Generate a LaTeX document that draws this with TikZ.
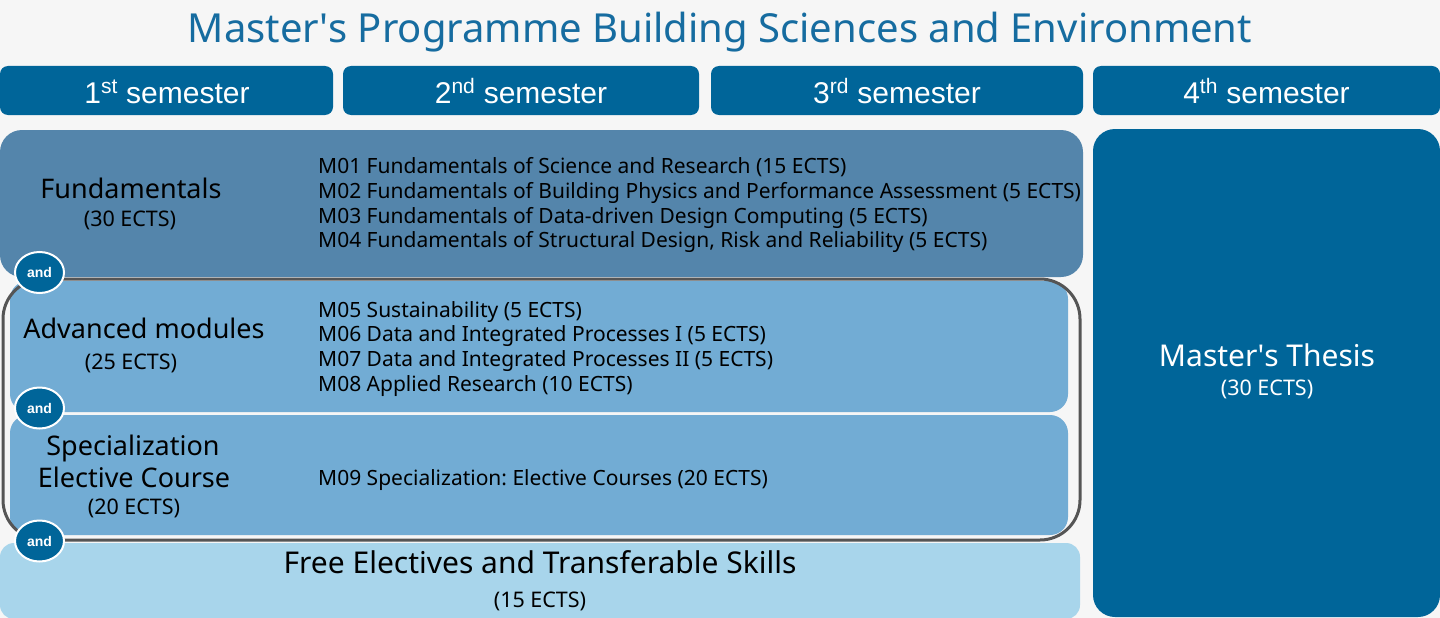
\documentclass[tikz,border=0pt]{standalone}
\usepackage{fontspec}
\setmainfont{Noto Sans}
\newfontfamily\headfont{Liberation Sans}
\usetikzlibrary{shapes.geometric}
\frenchspacing
\definecolor{bggray}{RGB}{246,246,246}
\definecolor{titleblue}{RGB}{22,108,160}
\definecolor{headblue}{RGB}{0,101,153}
\definecolor{fundblue}{RGB}{84,133,171}
\definecolor{advblue}{RGB}{114,172,212}
\definecolor{freeblue}{RGB}{168,213,235}
\definecolor{outgray}{RGB}{85,85,85}
\tikzset{
  semhead/.style={fill=headblue,rounded corners=8pt},
  semtext/.style={anchor=base,inner sep=0pt,text=white,font=\headfont\fontsize{30}{34}\selectfont},
  boxtitle/.style={anchor=base,inner sep=0pt,font=\fontsize{27}{32}\selectfont},
  bigtitle/.style={anchor=base,inner sep=0pt,font=\fontsize{30}{36}\selectfont},
  ectstext/.style={anchor=base,inner sep=0pt,font=\fontsize{21.5}{26}\selectfont},
  modtext/.style={anchor=base west,inner sep=0pt,font=\fontsize{21}{25}\selectfont},
  andnode/.style={ellipse,fill=headblue,draw=white,line width=2pt,minimum width=49pt,
    minimum height=41pt,inner sep=0pt,text=white,font=\headfont\bfseries\fontsize{14}{16}\selectfont}
}
\begin{document}
\begin{tikzpicture}[x=1pt,y=-1pt]
\fill[bggray](0,0)rectangle(1440,618);
\useasboundingbox(0,0)rectangle(1440,618);
\node[anchor=base,inner sep=0pt,text=titleblue,font=\fontsize{40}{48}\selectfont](title)
  at(720,43){Master\textquotesingle s Programme Building Sciences and Environment};
% semester heads
\fill[semhead](0,66)rectangle(333,115);
\fill[semhead](343,66)rectangle(699,115);
\fill[semhead](711,66)rectangle(1083,115);
\fill[semhead](1093,66)rectangle(1440,115);
\node[semtext](sem1)at(167,103){1\textsuperscript{st} semester};
\node[semtext](sem2)at(521,103){2\textsuperscript{nd} semester};
\node[semtext](sem3)at(897,103){3\textsuperscript{rd} semester};
\node[semtext](sem4)at(1266.5,103){4\textsuperscript{th} semester};
% blocks
\fill[fundblue,rounded corners=22pt](0,130)rectangle(1083,277);
\fill[advblue,rounded corners=18pt](10,281)rectangle(1068,412);
\fill[advblue,rounded corners=18pt](10,415)rectangle(1068,535);
\fill[freeblue,rounded corners=14pt](0,543)rectangle(1080,619);
\fill[headblue,rounded corners=22pt](1093,129)rectangle(1440,617);
\draw[outgray,line width=3pt,rounded corners=40pt](3,279)rectangle(1080,540);
% block titles
\node[boxtitle](fund)at(131,198){Fundamentals};
\node[ectstext](fundects)at(130,226){(30 ECTS)};
\node[boxtitle](adv)at(144,338){Advanced modules};
\node[ectstext](advects)at(131,369){(25 ECTS)};
\node[boxtitle](spec)at(133,455){Specialization};
\node[boxtitle](elect)at(134,487){Elective Course};
\node[ectstext](specects)at(134,514){(20 ECTS)};
\node[bigtitle](free)at(540,573){Free Electives and Transferable Skills};
\node[ectstext](freeects)at(540,607){(15 ECTS)};
\node[bigtitle,text=white](thesis)at(1267,366){Master\textquotesingle s Thesis};
\node[ectstext,text=white](thesisects)at(1267,395){(30 ECTS)};
% modules
\foreach \n/\y/\t in {1/173/{M01 Fundamentals of Science and Research (15 ECTS)},
  2/198/{M02 Fundamentals of Building Physics and Performance Assessment (5 ECTS)},
  3/223/{M03 Fundamentals of Data-driven Design Computing (5 ECTS)},
  4/247.5/{M04 Fundamentals of Structural Design, Risk and Reliability (5 ECTS)},
  5/317/{M05 Sustainability (5 ECTS)},
  6/341.5/{M06 Data and Integrated Processes I (5 ECTS)},
  7/366/{M07 Data and Integrated Processes II (5 ECTS)},
  8/391/{M08 Applied Research (10 ECTS)},
  9/485/{M09 Specialization: Elective Courses (20 ECTS)}}
  \node[modtext](m\n)at(318,\y){\t};
% and
\node[andnode](and1)at(39.5,272.5){and};
\node[andnode](and2)at(39.5,408){and};
\node[andnode](and3)at(39.5,541){and};
\end{tikzpicture}
\end{document}
